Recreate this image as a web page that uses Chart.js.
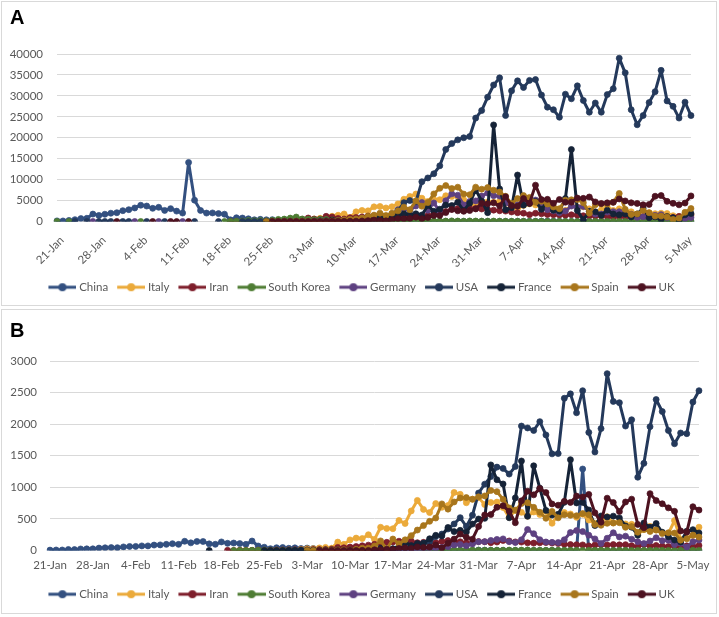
<!DOCTYPE html>
<html>
<head>
<meta charset="utf-8">
<script src="https://cdn.jsdelivr.net/npm/chart.js@4.4.1/dist/chart.umd.min.js"></script>
<style>
  body { margin: 0; background: #fff; width: 719px; height: 617px; position: relative; overflow: hidden; }
  .panel { position: absolute; left: 1px; width: 714px; height: 303px; border: 1px solid #d9d9d9; background: #fff; }
  #panelA { top: 1px; }
  #panelB { top: 309px; }
  .panel canvas { position: absolute; left: 0; top: 0; }
  .tag { position: absolute; left: 8px; font: bold 20px "Liberation Sans", Arial, sans-serif; line-height: 20px; color: #000; }
</style>
</head>
<body>
<div id="panelA" class="panel"><canvas id="chartA" width="714" height="303"></canvas><div class="tag" style="top:5px">A</div></div>
<div id="panelB" class="panel"><canvas id="chartB" width="714" height="303"></canvas><div class="tag" style="top:10px">B</div></div>
<script>
// ---- categories (one per day, 21-Jan .. 6-May) ----
const monthSpans = [['Jan', 21, 31], ['Feb', 1, 29], ['Mar', 1, 31], ['Apr', 1, 30], ['May', 1, 6]];
const days = [];
monthSpans.forEach(([m, a, b]) => { for (let d = a; d <= b; d++) days.push(d + '-' + m); });

const tickLabels = ['21-Jan', '28-Jan', '4-Feb', '11-Feb', '18-Feb', '25-Feb', '3-Mar', '10-Mar',
  '17-Mar', '24-Mar', '31-Mar', '7-Apr', '14-Apr', '21-Apr', '28-Apr', '5-May'];

const countries = ['China', 'Italy', 'Iran', 'South Korea', 'Germany', 'USA', 'France', 'Spain', 'UK'];
const colors = ['#335080', '#EBAA3A', '#7E1E2B', '#4F7D34', '#5E4181', '#24395B', '#152337', '#A8761C', '#4D1220'];

const n = null;

// ---- A: daily new cases (rows are weeks starting 21-Jan) ----
const casesChina = [
  149, 131, 259, 444, 688, 769, 1771,
  1459, 1737, 1981, 2099, 2589, 2825, 3235,
  3884, 3694, 3143, 3385, 2652, 3073, 2478,
  2015, 14108, 5090, 2641, 2008, 2048, 1886,
  1749, 391, 889, 823, 648, 409, 508,
  406, 433, 327, 427, 573, 202, 125,
  119, 139, 143, 99, 44, 40, 19,
  24, 15, 8, 11, 20, 16, 21,
  13, 34, 39, 41, 46, 39, 78,
  47, 67, 55, 54, 45, 31, 48,
  36, 35, 31, 19, 30, 39, 32,
  62, 63, 42, 46, 99, 108, 89,
  46, 26, 27, 18, 16, 12, 11,
  30, 10, 6, 12, 11, 3, 6,
  22, 4, 12, 1, 2, 3, 1,
  1, 2
];
const casesItaly = [
  n, n, n, n, n, n, n,
  n, n, n, n, n, n, n,
  n, n, n, n, n, n, n,
  n, n, n, n, n, n, n,
  n, n, n, 17, 62, 53, 97,
  93, 78, 250, 238, 240, 566, 342,
  466, 587, 769, 778, 1247, 1492, 1797,
  977, 2313, 2651, 2547, 3497, 3590, 3233,
  3526, 4207, 5322, 5986, 6557, 5560, 4789,
  5249, 5210, 6153, 5959, 5974, 5217, 4050,
  4053, 4782, 4668, 4585, 4805, 4316, 3599,
  3039, 3836, 4204, 3951, 4694, 4092, 3153,
  2972, 2667, 3786, 3493, 3491, 3047, 2256,
  2729, 3370, 2646, 3021, 2357, 2324, 1739,
  2091, 2086, 1872, 1965, 1900, 1389, 1221,
  1075, 1444
];
const casesIran = [
  n, n, n, n, n, n, n,
  n, n, n, n, n, n, n,
  n, n, n, n, n, n, n,
  n, n, n, n, n, n, n,
  n, 2, 3, 13, 10, 15, 18,
  34, 44, 106, 143, 205, 385, 523,
  835, 586, 591, 1234, 1076, 743, 595,
  881, 958, 1075, 1289, 1365, 1209, 1053,
  1178, 1192, 1046, 1237, 966, 1028, 1411,
  1762, 2206, 2389, 2926, 3076, 2901, 3186,
  3110, 2987, 2875, 2715, 2560, 2483, 2274,
  2089, 1997, 1634, 1972, 1837, 1657, 1617,
  1574, 1512, 1606, 1499, 1374, 1343, 1294,
  1297, 1194, 1030, 1168, 1134, 1153, 1006,
  1112, 1073, 993, 1006, 802, 976, 1223,
  1323, 1680
];
const casesKorea = [
  1, n, 1, n, n, n, n,
  n, n, n, n, n, n, n,
  1, n, n, n, n, n, n,
  n, n, n, n, n, n, n,
  1, 15, 53, 100, 229, 169, 231,
  144, 284, 505, 571, 813, 1062, 600,
  516, 438, 518, 483, 367, 248, 131,
  242, 114, 110, 107, 76, 74, 84,
  93, 152, 87, 147, 98, 64, 76,
  100, 104, 91, 146, 105, 78, 125,
  101, 89, 86, 94, 81, 47, 47,
  53, 39, 27, 30, 32, 25, 27,
  27, 22, 22, 18, 8, 13, 9,
  11, 8, 6, 10, 10, 10, 14,
  9, 4, 9, 6, 13, 8, 3,
  2, 4
];
const casesGermany = [
  n, n, n, n, n, n, 1,
  n, n, n, n, n, n, 2,
  n, n, n, 1, n, n, n,
  1, n, n, n, n, n, n,
  n, n, n, n, n, n, n,
  2, 10, 18, 26, 30, 57, 28,
  40, 70, 140, 150, 150, 250, 260,
  390, 440, 800, 690, 930, 1040, 1170,
  1140, 2800, 2960, 2710, 3700, 4530, 2690,
  4440, 2350, 4950, 6600, 6290, 3970, 4790,
  4920, 6060, 6800, 6170, 6080, 4410, 3780,
  4000, 4970, 5320, 5130, 3840, 2820, 2540,
  2080, 2490, 3690, 3380, 3600, 2460, 1780,
  1790, 2240, 2350, 2340, 2055, 1740, 990,
  1140, 1300, 1480, 1640, 940, 790, 700,
  690, 950
];
const casesUSA = [
  n, n, n, 1, n, 1, n,
  1, 1, 1, n, 1, 1, n,
  n, 1, n, n, 1, n, n,
  n, n, 1, n, n, n, 1,
  n, n, n, 1, 0, 0, 1,
  0, 6, 1, 2, 8, 6, 23,
  20, 33, 74, 80, 120, 130, 180,
  250, 300, 400, 500, 700, 800, 900,
  1800, 2600, 4500, 5000, 4700, 9500, 10400,
  11400, 13300, 17200, 18600, 19500, 20000, 20300,
  24700, 26500, 29700, 32600, 34300, 25300, 31200,
  33600, 32000, 33700, 33900, 30200, 27300, 26700,
  24900, 30400, 29300, 32400, 28900, 26100, 28300,
  26100, 30300, 31700, 39000, 35500, 26700, 23100,
  25300, 28400, 31000, 36100, 28800, 27500, 24700,
  28500, 25300
];
const casesFrance = [
  n, n, n, n, n, n, n,
  n, n, n, n, n, n, n,
  n, n, n, n, n, n, n,
  n, n, n, n, n, n, n,
  n, n, n, n, n, n, n,
  0, 2, 20, 43, 19, 43, 61,
  21, 73, 138, 190, 336, 177, 286,
  372, 497, 595, 785, 838, 924, 1210,
  1097, 1404, 1861, 1617, 1847, 1559, 3838,
  2446, 2931, 3922, 3809, 4611, 2599, 4376,
  7578, 4861, 2116, 23060, 7788, 2800, 3300,
  11100, 3900, 4300, 4800, 2900, 4800, 2700,
  2500, 5500, 17200, 2600, 400, 2400, 2300,
  1500, 2700, 1800, 1600, 1800, 1100, 1800,
  3200, 900, 1100, 500, 1200, 900, 300,
  1600, 1900
];
const casesSpain = [
  n, n, n, n, n, n, n,
  n, n, n, n, n, n, n,
  n, n, n, n, n, n, n,
  n, n, n, n, n, n, n,
  n, n, n, n, n, n, n,
  2, 4, 9, 17, 13, 38, 30,
  45, 57, 50, 104, 149, 211, 384,
  529, 609, 808, 1266, 1522, 2000, 1438,
  1987, 2538, 3431, 2833, 4946, 3646, 4517,
  6584, 7937, 8578, 7871, 8189, 6549, 6398,
  8200, 7719, 8102, 7472, 7026, 6023, 4273,
  5478, 6180, 5756, 4576, 4830, 4167, 3477,
  3045, 5092, 5183, 5252, 4499, 2000, 4000,
  4200, 4200, 4600, 6700, 2900, 1700, 1800,
  2700, 2100, 1300, 1300, 1100, 500, 800,
  2200, 3100
];
const casesUK = [
  n, n, n, n, n, n, n,
  n, n, n, 2, n, n, n,
  n, n, 1, n, n, 0, 0,
  n, 1, n, n, n, n, n,
  n, n, n, n, n, n, n,
  n, 1, 2, 5, 3, 12, 4,
  12, 34, 29, 48, 45, 69, 43,
  62, 77, 130, 208, 342, 250, 152,
  407, 676, 643, 714, 1035, 665, 967,
  1427, 1452, 2129, 2885, 2546, 2433, 2619,
  3009, 4324, 4244, 4450, 3735, 5903, 3802,
  3634, 5491, 4344, 8681, 5233, 5288, 4342,
  5252, 4603, 4617, 5599, 5525, 5850, 4676,
  4301, 4451, 4583, 5386, 4913, 4463, 4309,
  3996, 4076, 6032, 6201, 4806, 4339, 3985,
  4406, 6111
];

// ---- B: daily new deaths ----
const deathsChina = [
  6, 8, 8, 16, 15, 24, 26,
  26, 38, 43, 46, 45, 57, 64,
  65, 73, 73, 86, 89, 97, 108,
  97, 146, 121, 143, 142, 105, 98,
  136, 114, 118, 109, 97, 150, 71,
  52, 29, 44, 47, 35, 42, 31,
  38, 31, 30, 28, 27, 22, 17,
  22, 11, 7, 13, 10, 14, 13,
  11, 8, 3, 7, 6, 9, 7,
  4, 6, 5, 3, 5, 4, 1,
  7, 6, 4, 3, 4, 1, 2,
  0, 2, 1, 1, 1, 3, 0,
  1, 0, 0, 1290, 0, 0, 0,
  0, 0, 0, 0, 0, 0, 0,
  0, 0, 0, 0, 0, 0, 0,
  0, 0
];
const deathsItaly = [
  n, n, n, n, n, n, n,
  n, n, n, n, n, n, n,
  n, n, n, n, n, n, n,
  n, n, n, n, n, n, n,
  n, n, n, 1, 1, 1, 4,
  3, 2, 5, 4, 8, 5, 18,
  27, 28, 41, 49, 36, 133, 97,
  168, 196, 189, 250, 175, 368, 349,
  345, 475, 427, 627, 793, 651, 601,
  743, 683, 712, 919, 889, 756, 812,
  837, 727, 760, 766, 681, 525, 636,
  604, 542, 610, 570, 619, 431, 566,
  602, 578, 525, 575, 482, 433, 454,
  534, 437, 464, 420, 415, 260, 333,
  382, 323, 285, 269, 474, 174, 195,
  236, 369
];
const deathsIran = [
  n, n, n, n, n, n, n,
  n, n, n, n, n, n, n,
  n, n, n, n, n, n, n,
  n, n, n, n, n, n, n,
  n, 2, 0, 2, 1, 3, 4,
  4, 3, 7, 8, 9, 11, 12,
  11, 15, 15, 17, 21, 49, 43,
  54, 63, 75, 85, 97, 113, 129,
  135, 147, 149, 149, 123, 129, 127,
  122, 143, 157, 144, 139, 123, 117,
  141, 138, 124, 134, 158, 151, 136,
  133, 121, 117, 122, 125, 117, 111,
  98, 94, 92, 89, 73, 87, 91,
  88, 94, 90, 93, 76, 60, 96,
  71, 80, 71, 63, 74, 47, 74,
  63, 78
];
const deathsKorea = [
  n, n, n, n, n, n, n,
  n, n, n, n, n, n, n,
  n, n, n, n, n, n, n,
  n, n, n, n, n, n, n,
  n, n, 1, 1, 0, 3, 2,
  3, 1, 1, 1, 3, 4, 6,
  4, 4, 3, 7, 6, 8, 3,
  3, 6, 6, 1, 5, 3, 6,
  3, 3, 3, 9, 8, 2, 6,
  9, 6, 5, 8, 5, 8, 6,
  4, 3, 4, 5, 3, 6, 3,
  6, 8, 4, 4, 3, 3, 3,
  3, 3, 4, 1, 2, 2, 2,
  1, 1, 2, 2, 0, 1, 1,
  1, 1, 2, 1, 0, 2, 2,
  2, 1
];
const deathsGermany = [
  n, n, n, n, n, n, n,
  n, n, n, n, n, n, n,
  n, n, n, n, n, n, n,
  n, n, n, n, n, n, n,
  n, n, n, n, n, n, n,
  n, n, n, n, n, n, n,
  n, n, n, n, n, n, 2,
  0, 1, 1, 2, 3, 2, 4,
  6, 4, 11, 20, 17, 29, 26,
  34, 49, 61, 88, 96, 75, 104,
  138, 140, 160, 176, 184, 140, 126,
  170, 333, 266, 171, 135, 129, 126,
  170, 285, 315, 299, 242, 184, 110,
  194, 281, 215, 227, 179, 140, 110,
  150, 202, 156, 163, 94, 115, 54,
  139, 165
];
const deathsUSA = [
  n, n, n, n, n, n, n,
  n, n, n, n, n, n, n,
  n, n, n, n, n, n, n,
  n, n, n, n, n, n, n,
  n, n, n, n, n, n, n,
  n, n, n, n, 1, 1, 4,
  1, 3, 1, 2, 3, 3, 4,
  5, 8, 7, 10, 11, 9, 20,
  25, 30, 44, 58, 66, 116, 137,
  220, 260, 340, 420, 520, 380, 560,
  910, 1050, 1170, 1320, 1300, 1210, 1330,
  1970, 1940, 1900, 2040, 1830, 1530, 1535,
  2410, 2480, 2180, 2530, 1870, 1560, 1930,
  2800, 2360, 2340, 1970, 2070, 1160, 1380,
  1960, 2390, 2200, 1900, 1690, 1860, 1850,
  2350, 2530
];
const deathsFrance = [
  n, n, n, n, n, n, n,
  n, n, n, n, n, n, n,
  n, n, n, n, n, n, n,
  n, n, n, n, n, 1, n,
  n, n, n, n, n, n, n,
  0, 1, 0, 0, 0, 1, 0,
  1, 1, 2, 3, 2, 8, 6,
  9, 15, 13, 18, 12, 36, 21,
  27, 69, 128, 78, 112, 112, 186,
  240, 231, 365, 299, 319, 292, 418,
  499, 509, 1355, 1120, 1053, 518, 833,
  1417, 541, 1341, 987, 635, 561, 574,
  762, 1438, 753, 761, 642, 395, 547,
  531, 544, 516, 389, 369, 242, 437,
  367, 427, 289, 218, 166, 135, 306,
  330, 278
];
const deathsSpain = [
  n, n, n, n, n, n, n,
  n, n, n, n, n, n, n,
  n, n, n, n, n, n, n,
  n, n, n, n, n, n, n,
  n, n, n, n, n, n, n,
  n, n, n, n, n, n, n,
  1, 0, 2, 2, 5, 7, 11,
  7, 19, 36, 37, 72, 152, 21,
  182, 107, 169, 235, 324, 394, 462,
  514, 738, 655, 769, 832, 838, 812,
  849, 864, 950, 932, 809, 674, 637,
  743, 757, 683, 605, 510, 619, 517,
  567, 557, 551, 585, 565, 410, 399,
  430, 435, 440, 367, 378, 288, 331,
  301, 325, 268, 281, 276, 164, 185,
  244, 213
];
const deathsUK = [
  n, n, n, n, n, n, n,
  n, n, n, n, n, n, n,
  n, n, n, n, n, n, n,
  n, n, n, n, n, n, n,
  n, n, n, n, n, n, n,
  n, n, n, n, n, n, n,
  n, n, 1, 0, 1, 0, 1,
  2, 1, 2, 1, 11, 14, 20,
  16, 33, 40, 33, 56, 48, 54,
  87, 41, 115, 181, 260, 209, 180,
  381, 563, 569, 684, 708, 621, 439,
  786, 938, 881, 980, 917, 737, 717,
  778, 761, 861, 847, 888, 596, 449,
  828, 759, 616, 768, 813, 413, 360,
  900, 790, 740, 675, 620, 310, 290,
  693, 640
];

const casesSeries = [casesChina, casesItaly, casesIran, casesKorea, casesGermany, casesUSA, casesFrance, casesSpain, casesUK];
const deathsSeries = [deathsChina, deathsItaly, deathsIran, deathsKorea, deathsGermany, deathsUSA, deathsFrance, deathsSpain, deathsUK];

// legend marker: short line with a dot, like the spreadsheet legend
const legendIcons = colors.map(c => {
  const cv = document.createElement('canvas');
  cv.width = 31; cv.height = 12;
  const g = cv.getContext('2d');
  g.strokeStyle = c; g.lineWidth = 3;
  g.beginPath(); g.moveTo(3, 6); g.lineTo(31, 6); g.stroke();
  g.fillStyle = c;
  g.beginPath(); g.arc(17, 6, 4, 0, Math.PI * 2); g.fill();
  return cv;
});

// the right padding pulls the legend off centre; push it back after layout
const legendShift = {
  id: 'legendShift',
  afterLayout(chart, args, opts){
    if(!chart.legend) return;
    chart.legend.left += opts.dx;
    chart.legend.right += opts.dx;
  }
};

const TEXT = '#595959';

function buildChart(canvasId, series, cfg){
  const datasets = countries.map((name, i) => ({
    label: name,
    data: series[i],
    borderColor: colors[i],
    backgroundColor: colors[i],
    pointBackgroundColor: colors[i],
    pointBorderColor: colors[i],
    borderWidth: 3,
    borderJoinStyle: 'round',
    borderCapStyle: 'round',
    pointRadius: 3,
    pointBorderWidth: 0.75,
    pointHoverRadius: 0,
    tension: 0,
    order: countries.length - i   // later series painted on top
  }));

  return new Chart(document.getElementById(canvasId), {
    type: 'line',
    data: { labels: days, datasets },
    plugins: [legendShift],
    options: {
      responsive: false,
      animation: false,
      devicePixelRatio: 1,
      layout: { padding: { top: cfg.top, right: cfg.right, bottom: cfg.bottom, left: 0 } },
      plugins: {
        tooltip: { enabled: false },
        legendShift: { dx: cfg.legendDx },
        legend: {
          position: 'bottom',
          labels: {
            usePointStyle: true,
            pointStyleWidth: 25,
            boxHeight: 12,
            padding: 9,
            color: TEXT,
            font: { family: 'Lato', size: 11.5 },
            sort: (a, b) => a.datasetIndex - b.datasetIndex,
            generateLabels: chart => Chart.defaults.plugins.legend.labels.generateLabels(chart)
              .map(item => Object.assign(item, { pointStyle: legendIcons[item.datasetIndex] }))
          }
        }
      },
      scales: {
        x: {
          offset: false,
          grid: { display: false, drawTicks: false },
          border: { display: false },
          ticks: {
            autoSkip: false,
            minRotation: cfg.rot,
            maxRotation: cfg.rot,
            padding: cfg.xPad,
            labelOffset: cfg.labelOffset,
            color: TEXT,
            font: { family: 'Lato', size: cfg.xFont },
            callback(v){
              const l = this.getLabelForValue(v);
              return tickLabels.includes(l) ? l : '';
            }
          },
          afterFit(s){ s.height = cfg.xHeight; }
        },
        y: {
          min: 0,
          max: cfg.yMax,
          grid: { color: '#d9d9d9', lineWidth: 1, drawTicks: false },
          border: { display: false },
          ticks: {
            stepSize: cfg.yStep,
            padding: cfg.yPad,
            color: TEXT,
            font: { family: 'Lato', size: 11.5 },
            callback: v => String(v)
          },
          afterFit(s){ s.width = cfg.left; }
        }
      }
    }
  });
}

buildChart('chartA', casesSeries, {
  top: 52, right: 25, bottom: 2, left: 55, xHeight: 51, legendDx: 15,
  rot: 45, xPad: 12, labelOffset: 5, xFont: 11.5, yPad: 14, yMax: 40000, yStep: 5000
});
buildChart('chartB', deathsSeries, {
  top: 51, right: 17, bottom: 3, left: 48, xHeight: 29, legendDx: 11,
  rot: 0, xPad: 8, labelOffset: 0, xFont: 11.5, yPad: 13, yMax: 3000, yStep: 500
});
</script>
</body>
</html>
